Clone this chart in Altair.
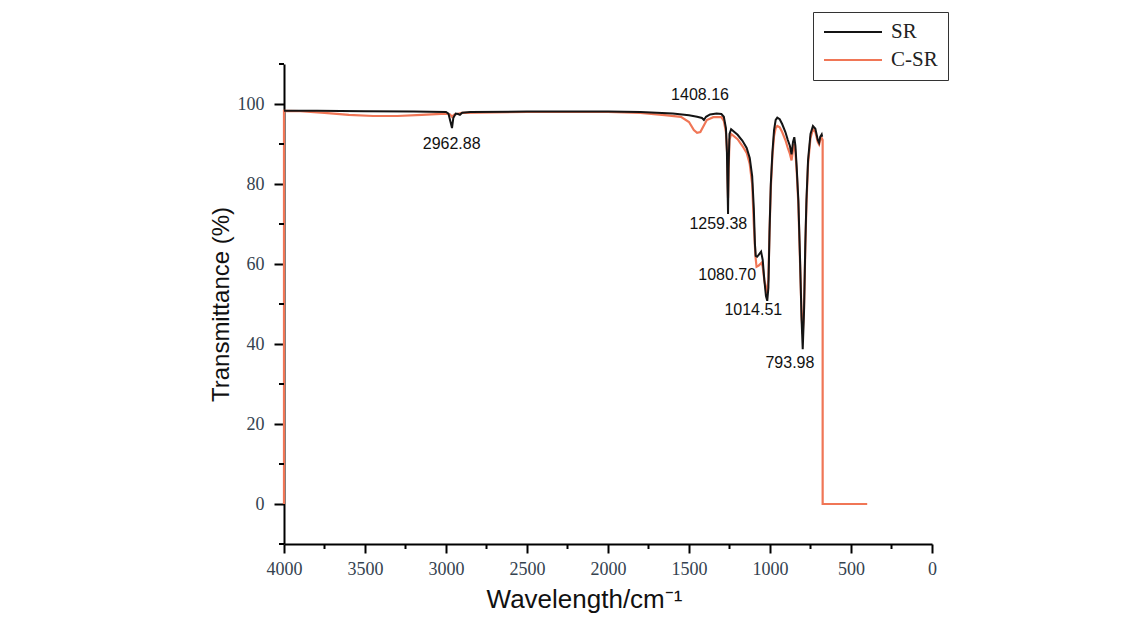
import altair as alt
import pandas as pd

# ---- data ----
sr_w = [4000, 3800, 3500, 3200, 3000, 2985, 2972, 2963, 2955, 2940, 2925, 2914, 2900, 2850, 2500,
        2000, 1800, 1700, 1600, 1500, 1450, 1420, 1408, 1395, 1370, 1330, 1300, 1285, 1272, 1266,
        1262, 1259, 1256, 1250, 1240, 1200, 1170, 1144, 1125, 1110, 1100, 1093, 1088, 1080, 1070,
        1055, 1045, 1035, 1025, 1017, 1010, 1003, 995, 985, 975, 965, 955, 940, 925, 905,
        890, 877, 867, 858, 850, 843, 835, 825, 815, 805, 798, 790, 782, 775, 765,
        750, 735, 720, 705, 697, 690, 681, 678]
sr_t = [98.3, 98.3, 98.2, 98.1, 98.0, 97.6, 95.5, 94.0, 96.5, 97.6, 97.5, 97.3, 97.8, 98.0, 98.1,
        98.1, 98.0, 97.8, 97.6, 97.2, 96.8, 96.5, 96.0, 96.8, 97.4, 97.6, 97.5, 96.8, 94.0, 88.0,
        79.0, 72.5, 84.0, 92.5, 93.7, 92.3, 90.8, 89.0, 86.5, 82.0, 74.0, 65.0, 62.0, 61.8, 62.3,
        63.1, 61.0, 56.0, 52.0, 50.8, 54.0, 68.0, 80.0, 88.0, 93.5, 96.0, 96.6, 96.2, 95.0, 93.0,
        91.0, 89.5, 87.4, 90.5, 91.7, 89.5, 84.0, 76.0, 62.0, 46.0, 38.7, 48.0, 65.0, 76.0, 86.0,
        92.5, 94.5, 93.8, 91.0, 90.3, 91.8, 92.4, 91.8]

csr_w = [4000, 4000, 3900, 3750, 3600, 3450, 3300, 3150, 3000, 2975, 2963, 2950, 2900, 2500, 2000,
         1800, 1650, 1550, 1500, 1470, 1450, 1430, 1410, 1390, 1350, 1300, 1285, 1272, 1265, 1262,
         1259, 1255, 1250, 1240, 1200, 1170, 1144, 1125, 1110, 1100, 1090, 1083, 1070, 1052, 1045,
         1035, 1025, 1020, 1010, 1003, 995, 985, 975, 965, 955, 940, 925, 905, 890, 877,
         867, 858, 850, 843, 835, 825, 815, 805, 798, 790, 782, 775, 765, 750, 735,
         720, 705, 697, 690, 681, 677, 675, 675, 400]
csr_t = [0.0, 98.3, 98.2, 97.8, 97.3, 97.0, 97.0, 97.3, 97.6, 97.4, 96.8, 97.3, 97.8, 98.0, 98.0,
         97.8, 97.2, 96.8, 95.5, 93.5, 92.8, 93.0, 94.5, 96.0, 96.7, 96.7, 95.8, 93.0, 88.0, 81.0,
         76.5, 84.0, 91.0, 92.5, 91.2, 89.5, 87.8, 85.0, 80.0, 70.0, 62.0, 59.3, 59.6, 60.3, 59.3,
         56.0, 53.5, 53.0, 56.0, 68.0, 79.0, 87.0, 92.0, 94.0, 94.5, 94.2, 93.0, 91.0, 89.0, 87.5,
         85.9, 88.5, 90.0, 88.0, 83.0, 75.0, 61.0, 47.0, 42.5, 49.0, 64.0, 75.0, 85.0, 91.5, 93.7,
         93.0, 90.5, 89.9, 91.0, 91.5, 91.2, 91.0, 0.0, 0.0]

series_names = ["SR", "C-SR"]
series_colors = ["#141414", "#f07656"]

ann_text = ["2962.88", "1408.16", "1259.38", "1080.70", "1014.51", "793.98"]
ann_w = [2965, 1432, 1319, 1264, 1103, 877]
ann_t = [90.0, 102.2, 69.9, 57.2, 48.4, 35.3]

x_major = list(range(0, 4001, 500))
x_minor = list(range(250, 4000, 500))
y_major = list(range(0, 101, 20))
y_minor = list(range(-10, 111, 20))

sr = pd.DataFrame({"w": sr_w, "t": sr_t, "series": "SR", "i": range(len(sr_w))})
csr = pd.DataFrame({"w": csr_w, "t": csr_t, "series": "C-SR", "i": range(len(csr_w))})
ann = pd.DataFrame({"label": ann_text, "w": ann_w, "t": ann_t})
xminor_df = pd.DataFrame({"w": x_minor})
yminor_df = pd.DataFrame({"t": y_minor})

label_color = "#34424f"
x_scale = alt.Scale(domain=[0, 4000], reverse=True, nice=False, zero=False)
y_scale = alt.Scale(domain=[-10, 110], nice=False, zero=False)

x_enc = alt.X(
    "w:Q",
    scale=x_scale,
    axis=alt.Axis(
        values=x_major,
        format="d",
        title="Wavelength/cm\u207b\u00b9",
        titleFont="Liberation Sans",
        titleFontSize=26,
        titleFontWeight="normal",
        titleColor="#111111",
        titlePadding=8,
        titleX=300,
        labelFont="Liberation Serif",
        labelFontSize=18,
        labelColor=label_color,
        labelPadding=7,
        labelFlush=False,
        tickSize=9,
        tickColor="#000000",
        tickWidth=2,
        domainColor="#000000",
        domainWidth=2,
        grid=False,
    ),
)
y_enc = alt.Y(
    "t:Q",
    scale=y_scale,
    axis=alt.Axis(
        values=y_major,
        title="Transmittance (%)",
        titleFont="Liberation Sans",
        titleFontSize=24,
        titleFontWeight="normal",
        titleColor="#111111",
        titlePadding=4,
        labelFont="Liberation Serif",
        labelFontSize=18,
        labelColor=label_color,
        labelPadding=10,
        labelFlush=False,
        tickSize=10,
        tickColor="#000000",
        tickWidth=2,
        domainColor="#000000",
        domainWidth=2,
        grid=False,
    ),
)

color_enc = alt.Color(
    "series:N",
    scale=alt.Scale(domain=series_names, range=series_colors),
    legend=alt.Legend(
        orient="none",
        legendX=529,
        legendY=-52,
        title=None,
        symbolType="stroke",
        symbolSize=3364,
        symbolStrokeWidth=2,
        clipHeight=20,
        rowPadding=7,
        labelFont="Liberation Serif",
        labelFontSize=21,
        labelColor="#222222",
        labelOffset=8,
        strokeColor="#333333",
        fillColor="#ffffff",
        padding=10,
    ),
)

csr_line = alt.Chart(csr).mark_line(strokeWidth=2.2).encode(
    x=x_enc, y=y_enc, color=color_enc, order=alt.Order("i:Q")
)
sr_line = alt.Chart(sr).mark_line(strokeWidth=2).encode(
    x=x_enc, y=y_enc, color=color_enc, order=alt.Order("i:Q")
)
labels = alt.Chart(ann).mark_text(
    font="Liberation Sans", fontSize=16, color="#111111", align="center", baseline="middle"
).encode(x="w:Q", y="t:Q", text="label:N")

# minor ticks
x_minor_ticks = alt.Chart(xminor_df).mark_rule(color="#000000", strokeWidth=2).encode(
    x=alt.X("w:Q", scale=x_scale), y=alt.value(480), y2=alt.value(485)
)
y_minor_ticks = alt.Chart(yminor_df).mark_rule(color="#000000", strokeWidth=2).encode(
    y=alt.Y("t:Q", scale=y_scale), x=alt.value(0), x2=alt.value(-5)
)

chart = (
    alt.layer(csr_line, sr_line, labels, x_minor_ticks, y_minor_ticks)
    .properties(
        width=648,
        height=480,
        autosize=alt.AutoSizeParams(type="none"),
        padding={"left": 284, "top": 64, "right": 211, "bottom": 75},
        background="#ffffff",
    )
    .configure_view(stroke="transparent")
)

chart.save("out.html", embed_options={"renderer": "svg", "actions": False})
